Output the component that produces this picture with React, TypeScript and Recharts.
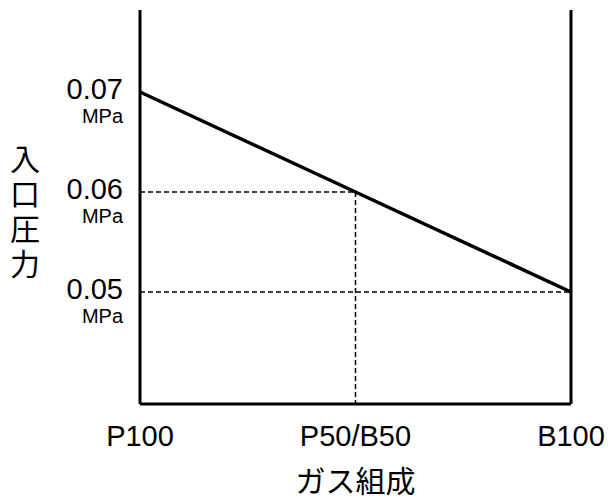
import React from 'react';
import { LineChart, Line, XAxis, YAxis, ReferenceLine, Label } from 'recharts';

const categories = [0, 50, 100];
const categoryLabels = ['P100', 'P50/B50', 'B100'];
const pressureValues = [0.07, 0.06, 0.05];
const yTicks = [0.05, 0.06, 0.07];
const yDomain = [0.0388, 0.0782];
const yUnit = 'MPa';
const yTitle = '入口圧力';
const xTitle = 'ガス組成';
const guideMid = { x: 50, y: 0.06 };
const guideEnd = { x: 100, y: 0.05 };

const data = categories.map((c, i) => ({ x: c, y: pressureValues[i] }));

const FONT = '"Liberation Sans", Arial, sans-serif';
const CJK = '"Noto Sans CJK JP", sans-serif';

const XTick = (props: any) => {
  const { x, y, payload } = props;
  const idx = categories.indexOf(payload.value);
  return (
    <text x={x} y={y + 34} textAnchor="middle" fontFamily={FONT} fontSize={29} fill="#000">
      {categoryLabels[idx]}
    </text>
  );
};

const YTick = (props: any) => {
  const { x, y, payload } = props;
  return (
    <g>
      <text x={x - 9} y={y + 7} textAnchor="end" fontFamily={FONT} fontSize={29} fill="#000">
        {payload.value.toFixed(2)}
      </text>
      <text x={x - 9} y={y + 31} textAnchor="end" fontFamily={FONT} fontSize={20} fill="#000">
        {yUnit}
      </text>
    </g>
  );
};

const YTitle = (props: any) => {
  const vb = props.viewBox || { x: 0, y: 10, width: 140, height: 394 };
  const cx = vb.x + 25;
  const top = vb.y + vb.height / 2 - 63;
  return (
    <text
      x={cx}
      y={top}
      style={{ writingMode: 'vertical-rl', letterSpacing: '5px' }}
      fontFamily={CJK}
      fontSize={30}
      fill="#000"
    >
      {yTitle}
    </text>
  );
};

const XTitle = (props: any) => {
  const vb = props.viewBox || { x: 140, y: 404, width: 431, height: 96 };
  return (
    <text
      x={vb.x + vb.width / 2}
      y={vb.y + 88}
      textAnchor="middle"
      fontFamily={CJK}
      fontSize={30}
      fill="#000"
    >
      {xTitle}
    </text>
  );
};

export default function App() {
  return (
    <div style={{ position: 'absolute', left: 0, top: 0, background: '#fff' }}>
      <LineChart width={608} height={500} data={data} margin={{ top: 10, right: 37, bottom: 0, left: 0 }}>
        <XAxis
          dataKey="x"
          type="number"
          domain={[0, 100]}
          ticks={categories}
          tick={<XTick />}
          tickLine={false}
          axisLine={{ stroke: '#000', strokeWidth: 3 }}
          height={96}
          interval={0}
        >
          <Label content={<XTitle />} />
        </XAxis>
        <YAxis
          type="number"
          domain={yDomain}
          ticks={yTicks}
          tick={<YTick />}
          tickLine={false}
          axisLine={{ stroke: '#000', strokeWidth: 3 }}
          width={140}
          interval={0}
          allowDataOverflow
        >
          <Label content={<YTitle />} />
        </YAxis>
        <ReferenceLine
          segment={[{ x: 0, y: guideMid.y }, { x: guideMid.x, y: guideMid.y }]}
          stroke="#000"
          strokeWidth={1.5}
          strokeDasharray="5 3"
        />
        <ReferenceLine
          segment={[{ x: guideMid.x, y: guideMid.y }, { x: guideMid.x, y: yDomain[0] }]}
          stroke="#000"
          strokeWidth={1.5}
          strokeDasharray="5 3"
        />
        <ReferenceLine
          segment={[{ x: 0, y: guideEnd.y }, { x: guideEnd.x, y: guideEnd.y }]}
          stroke="#000"
          strokeWidth={1.5}
          strokeDasharray="5 3"
        />
        <ReferenceLine x={100} stroke="#000" strokeWidth={3} />
        <Line
          dataKey="y"
          type="linear"
          stroke="#000"
          strokeWidth={3.5}
          dot={false}
          isAnimationActive={false}
        />
      </LineChart>
    </div>
  );
}
